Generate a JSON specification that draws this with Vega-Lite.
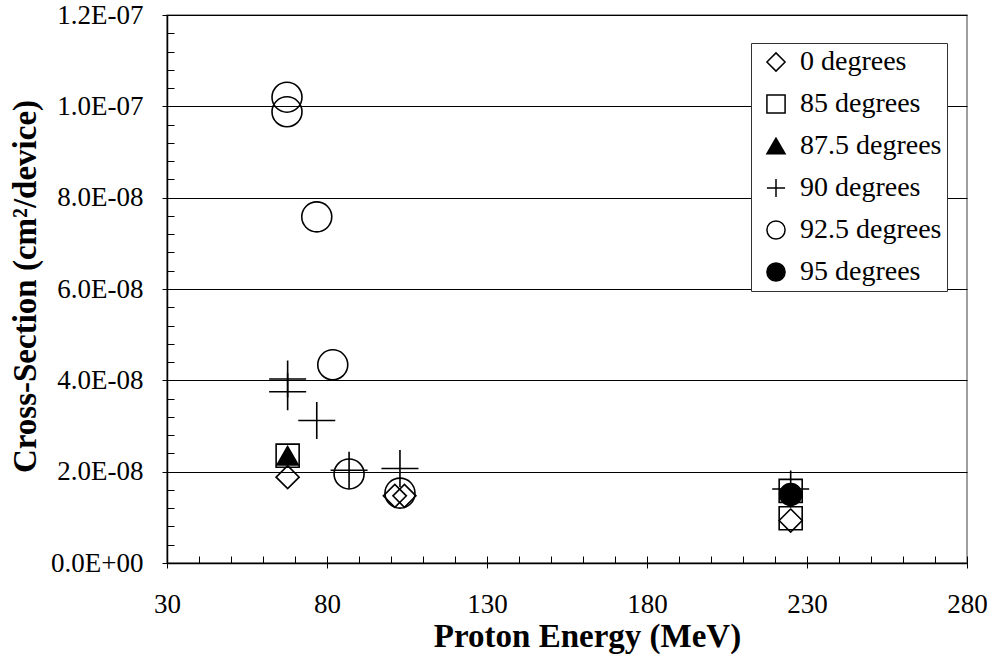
{
  "$schema": "https://vega.github.io/schema/vega-lite/v6.json",
  "width": 800,
  "height": 548,
  "autosize": "none",
  "padding": {"left": 167, "top": 15, "right": 25, "bottom": 94},
  "background": "white",
  "config": {
    "view": {"stroke": "#808080", "strokeWidth": 1.5},
    "font": "Liberation Serif",
    "legend": {
      "orient": "none",
      "legendX": 584,
      "legendY": 28,
      "labelFontSize": 28,
      "labelFont": "Liberation Serif",
      "labelColor": "black",
      "symbolSize": 330,
      "symbolStrokeWidth": 1.5,
      "symbolStrokeColor": "black",
      "strokeColor": "#333333",
      "fillColor": "white",
      "padding": 5,
      "rowPadding": 14,
      "labelOffset": 10,
      "symbolOffset": 6,
      "labelLimit": 400
    }
  },
  "data": {
    "values": [
      {"E": 67.5, "cs": 1.02e-7, "series": "92.5 degrees"},
      {"E": 67.5, "cs": 9.88e-8, "series": "92.5 degrees"},
      {"E": 76.8, "cs": 7.58e-8, "series": "92.5 degrees"},
      {"E": 81.8, "cs": 4.34e-8, "series": "92.5 degrees"},
      {"E": 86.9, "cs": 1.95e-8, "series": "92.5 degrees"},
      {"E": 102.8, "cs": 1.53e-8, "series": "92.5 degrees"},
      {"E": 67.7, "cs": 4.03e-8, "series": "90 degrees"},
      {"E": 67.7, "cs": 3.75e-8, "series": "90 degrees"},
      {"E": 76.8, "cs": 3.12e-8, "series": "90 degrees"},
      {"E": 86.9, "cs": 2.03e-8, "series": "90 degrees"},
      {"E": 102.8, "cs": 2.07e-8, "series": "90 degrees"},
      {"E": 224.9, "cs": 1.62e-8, "series": "90 degrees"},
      {"E": 67.7, "cs": 1.88e-8, "series": "0 degrees"},
      {"E": 101.2, "cs": 1.47e-8, "series": "0 degrees"},
      {"E": 104.2, "cs": 1.47e-8, "series": "0 degrees"},
      {"E": 224.9, "cs": 9.3e-9, "series": "0 degrees"},
      {"E": 67.7, "cs": 2.35e-8, "series": "85 degrees"},
      {"E": 224.9, "cs": 1.58e-8, "series": "85 degrees"},
      {"E": 224.9, "cs": 9.8e-9, "series": "85 degrees"},
      {"E": 67.7, "cs": 2.35e-8, "series": "87.5 degrees"},
      {"E": 224.9, "cs": 1.5e-8, "series": "95 degrees"}
    ]
  },
  "layer": [
    {
      "mark": {"type": "point", "opacity": 0},
      "encoding": {
        "x": {
          "field": "E", "type": "quantitative",
          "scale": {"domain": [30, 280], "nice": false, "zero": false},
          "axis": {
            "orient": "bottom",
            "values": [30,40,50,60,70,80,90,100,110,120,130,140,150,160,170,180,190,200,210,220,230,240,250,260,270,280],
            "tickSize": -7, "tickColor": "black", "tickWidth": 1,
            "labels": false, "domain": false, "grid": false, "title": null
          }
        },
        "y": {
          "field": "cs", "type": "quantitative",
          "scale": {"domain": [0, 1.2e-7], "nice": false},
          "axis": {
            "orient": "left",
            "values": [0,4e-9,8e-9,1.2e-8,1.6e-8,2e-8,2.4e-8,2.8e-8,3.2e-8,3.6e-8,4e-8,4.4e-8,4.8e-8,5.2e-8,5.6e-8,6e-8,6.4e-8,6.8e-8,7.2e-8,7.6e-8,8e-8,8.4e-8,8.8e-8,9.2e-8,9.6e-8,1e-7,1.04e-7,1.08e-7,1.12e-7,1.16e-7,1.2e-7],
            "tickSize": -7, "tickColor": "black", "tickWidth": 1,
            "labels": false, "domain": false, "grid": false, "title": null
          }
        }
      }
    },
    {
      "mark": {"type": "point", "opacity": 0},
      "encoding": {
        "x": {
          "field": "E", "type": "quantitative",
          "axis": {
            "orient": "bottom",
            "values": [30, 80, 130, 180, 230, 280],
            "tickSize": 5, "tickColor": "black", "tickWidth": 1,
            "domainColor": "black", "domainWidth": 1.5,
            "labelFontSize": 27, "labelFont": "Liberation Serif", "labelColor": "black",
            "labelPadding": 23, "labelFlush": false, "labelOverlap": false,
            "grid": false,
            "title": "Proton Energy (MeV)",
            "titleFont": "Liberation Serif", "titleFontSize": 33, "titleFontWeight": "bold", "titleColor": "black",
            "titleX": 420, "titleY": 83, "titleBaseline": "alphabetic", "titleAlign": "center", "titleAnchor": null
          }
        },
        "y": {
          "field": "cs", "type": "quantitative",
          "axis": {
            "orient": "left",
            "values": [0, 2e-8, 4e-8, 6e-8, 8e-8, 1e-7, 1.2e-7],
            "labelExpr": "datum.value == 0 ? '0.0E+00' : replace(upper(format(datum.value, '.1e')), 'E-', 'E-0')",
            "tickSize": 5, "tickColor": "black", "tickWidth": 1,
            "domainColor": "black", "domainWidth": 1.5,
            "labelFontSize": 27, "labelFont": "Liberation Serif", "labelColor": "black",
            "labelPadding": 19, "labelFlush": false, "labelOverlap": false,
            "grid": true, "gridColor": "black", "gridWidth": 1, "gridOpacity": 1,
            "title": "Cross-Section (cm²/device)",
            "titleFont": "Liberation Serif", "titleFontSize": 33, "titleFontWeight": "bold", "titleColor": "black",
            "titleAngle": 270, "titleX": -132, "titleY": 271, "titleBaseline": "alphabetic", "titleAlign": "center", "titleAnchor": null
          }
        }
      }
    },
    {
      "transform": [{"filter": {"field": "series", "oneOf": ["92.5 degrees"]}}],
      "mark": {"type": "point", "filled": false, "strokeWidth": 1.6, "opacity": 1, "size": 900},
      "encoding": {
        "x": {"field": "E", "type": "quantitative", "axis": null},
        "y": {"field": "cs", "type": "quantitative", "axis": null},
        "shape": {"field": "series", "type": "nominal", "scale": {"domain": ["0 degrees", "85 degrees", "87.5 degrees", "90 degrees", "92.5 degrees", "95 degrees"], "range": ["diamond", "square", "triangle-up", "M-1,0H1M0,-1V1", "circle", "circle"]}, "legend": {"title": null}},
        "fill": {"field": "series", "type": "nominal", "scale": {"domain": ["0 degrees", "85 degrees", "87.5 degrees", "90 degrees", "92.5 degrees", "95 degrees"], "range": ["transparent", "transparent", "black", "transparent", "transparent", "black"]}, "legend": {"title": null}},
        "stroke": {"field": "series", "type": "nominal", "scale": {"domain": ["0 degrees", "85 degrees", "87.5 degrees", "90 degrees", "92.5 degrees", "95 degrees"], "range": ["black", "black", "black", "black", "black", "black"]}, "legend": {"title": null}}
      }
    },
    {
      "transform": [{"filter": {"field": "series", "oneOf": ["90 degrees"]}}],
      "mark": {"type": "point", "filled": false, "strokeWidth": 1.6, "opacity": 1, "size": 1369},
      "encoding": {
        "x": {"field": "E", "type": "quantitative", "axis": null},
        "y": {"field": "cs", "type": "quantitative", "axis": null},
        "shape": {"field": "series", "type": "nominal", "legend": {"title": null}},
        "fill": {"field": "series", "type": "nominal", "legend": {"title": null}},
        "stroke": {"field": "series", "type": "nominal", "legend": {"title": null}}
      }
    },
    {
      "transform": [{"filter": {"field": "series", "oneOf": ["0 degrees", "85 degrees"]}}],
      "mark": {"type": "point", "filled": false, "strokeWidth": 1.6, "opacity": 1, "size": 530},
      "encoding": {
        "x": {"field": "E", "type": "quantitative", "axis": null},
        "y": {"field": "cs", "type": "quantitative", "axis": null},
        "shape": {"field": "series", "type": "nominal", "legend": {"title": null}},
        "fill": {"field": "series", "type": "nominal", "legend": {"title": null}},
        "stroke": {"field": "series", "type": "nominal", "legend": {"title": null}}
      }
    },
    {
      "transform": [{"filter": {"field": "series", "oneOf": ["87.5 degrees"]}}],
      "mark": {"type": "point", "filled": false, "strokeWidth": 1.6, "opacity": 1, "size": 450},
      "encoding": {
        "x": {"field": "E", "type": "quantitative", "axis": null},
        "y": {"field": "cs", "type": "quantitative", "axis": null},
        "shape": {"field": "series", "type": "nominal", "legend": {"title": null}},
        "fill": {"field": "series", "type": "nominal", "legend": {"title": null}},
        "stroke": {"field": "series", "type": "nominal", "legend": {"title": null}}
      }
    },
    {
      "transform": [{"filter": {"field": "series", "oneOf": ["95 degrees"]}}],
      "mark": {"type": "point", "filled": false, "strokeWidth": 1.6, "opacity": 1, "size": 484},
      "encoding": {
        "x": {"field": "E", "type": "quantitative", "axis": null},
        "y": {"field": "cs", "type": "quantitative", "axis": null},
        "shape": {"field": "series", "type": "nominal", "legend": {"title": null}},
        "fill": {"field": "series", "type": "nominal", "legend": {"title": null}},
        "stroke": {"field": "series", "type": "nominal", "legend": {"title": null}}
      }
    }
  ],
  "resolve": {"axis": {"x": "independent", "y": "independent"}}
}
